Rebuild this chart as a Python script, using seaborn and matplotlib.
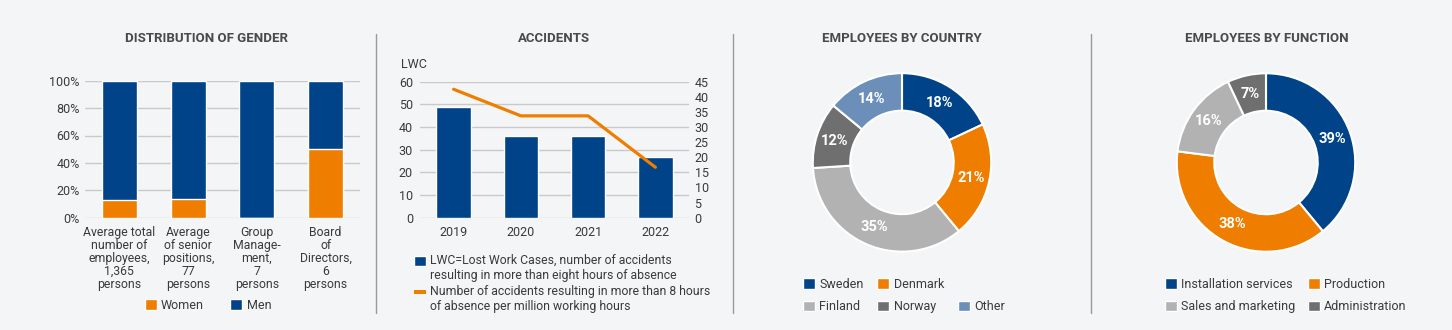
import numpy as np
import pandas as pd
import seaborn as sns
import matplotlib
matplotlib.use("Agg")
import matplotlib.pyplot as plt
from matplotlib.patches import Patch, Rectangle
from matplotlib.lines import Line2D
from matplotlib.legend_handler import HandlerPatch

# ---------------- data ----------------
gender_categories = [
    "Average total\nnumber of\nemployees,\n1,365\npersons",
    "Average\nof senior\npositions,\n77\npersons",
    "Group\nManage-\nment,\n7\npersons",
    "Board\nof\nDirectors,\n6\npersons",
]
women_pct = [13, 14, 0, 50]
men_pct = [87, 86, 100, 50]
gender_ticks = [0, 20, 40, 60, 80, 100]

years = ["2019", "2020", "2021", "2022"]
lwc_cases = [49, 36, 36, 27]
accident_rate = [42.5, 33.7, 33.7, 16.7]
lwc_ticks = [0, 10, 20, 30, 40, 50, 60]
rate_ticks = [0, 5, 10, 15, 20, 25, 30, 35, 40, 45]

countries = ["Sweden", "Denmark", "Finland", "Norway", "Other"]
country_pct = [18, 21, 35, 12, 14]

functions = ["Installation services", "Production", "Sales and marketing", "Administration"]
function_pct = [39, 38, 16, 7]

# ---------------- style ----------------
BG = "#f4f5f7"
NAVY = "#004388"
ORANGE = "#ef7d00"
LGRAY = "#b2b2b2"
DGRAY = "#6f6f6f"
LBLUE = "#6b8fb9"
TXT = "#3a3a3a"
TITLE = "#4a4a4a"
GRID = "#c9c9c9"

sns.set_theme(style="white")
plt.rcParams["font.family"] = ["Roboto", "DejaVu Sans"]
plt.rcParams["text.color"] = TXT
plt.rcParams["axes.labelcolor"] = TXT
plt.rcParams["xtick.color"] = TXT
plt.rcParams["ytick.color"] = TXT

W, H = 1452, 330
fig = plt.figure(figsize=(W / 100, H / 100), dpi=100, facecolor=BG)


def rect(l, t, r, b):
    return [l / W, 1 - b / H, (r - l) / W, (b - t) / H]


def fx(x):
    return x / W


def fy(y):
    return 1 - y / H


def clean(ax):
    ax.set_facecolor("none")
    for s in ax.spines.values():
        s.set_visible(False)
    ax.tick_params(length=0)
    ax.set_xlabel("")
    ax.set_ylabel("")


LEG = dict(frameon=False, fontsize=9, handlelength=0.95, handleheight=0.95,
           handletextpad=0.35, borderpad=0, borderaxespad=0)

# ---------------- titles & dividers ----------------
for x, t in [(206.5, "DISTRIBUTION OF GENDER"), (554, "ACCIDENTS"),
             (902, "EMPLOYEES BY COUNTRY"), (1267, "EMPLOYEES BY FUNCTION")]:
    fig.text(fx(x), fy(39), t, ha="center", va="center", fontsize=9.5,
             fontweight="bold", color=TITLE)
for x in [375.5, 732.5, 1090.5]:
    fig.add_artist(Line2D([fx(x), fx(x)], [fy(34), fy(313)], color="#9a9a9a", lw=1,
                          transform=fig.transFigure))

# ---------------- panel 1: gender ----------------
df_g = pd.DataFrame({"cat": gender_categories,
                     "women": women_pct,
                     "total": np.array(women_pct) + np.array(men_pct)})
ax1 = fig.add_axes(rect(85, 80.7, 360, 217.7))
sns.barplot(data=df_g, x="cat", y="total", color=NAVY, width=0.51, saturation=1, ax=ax1)
sns.barplot(data=df_g, x="cat", y="women", color=ORANGE, width=0.51, saturation=1, ax=ax1)
ax1.set_ylim(0, 100)
ax1.set_yticks(gender_ticks)
ax1.set_yticklabels([f"{v}%" for v in gender_ticks], fontsize=9)
ax1.set_xticks(range(len(gender_categories)))
ax1.set_xticklabels(gender_categories, fontsize=8.8, linespacing=1.0)
ax1.yaxis.grid(True, color=GRID, lw=1)
ax1.set_axisbelow(True)
clean(ax1)
ax1.tick_params(axis="y", pad=4)
ax1.tick_params(axis="x", pad=6)

fig.legend(handles=[Patch(facecolor=ORANGE, label="Women"), Patch(facecolor=NAVY, label="Men")],
           loc="center", bbox_to_anchor=(fx(208), fy(305.5)), ncol=2,
           columnspacing=2.1, **LEG)

# ---------------- panel 2: accidents ----------------
ax2 = fig.add_axes(rect(420, 81.7, 689, 217.7))
sns.barplot(x=years, y=lwc_cases, color=NAVY, width=0.51, saturation=1, ax=ax2)
ax2.set_ylim(0, 60)
ax2.set_yticks(lwc_ticks)
ax2.set_yticklabels([str(v) for v in lwc_ticks], fontsize=9)
ax2.tick_params(axis="x", labelsize=9, pad=6)
ax2.yaxis.grid(True, color=GRID, lw=1)
ax2.set_axisbelow(True)
clean(ax2)
ax2.tick_params(axis="y", pad=5)

ax2b = ax2.twinx()
sns.lineplot(x=np.arange(len(years)), y=accident_rate, color=ORANGE, lw=2.3, ax=ax2b)
ax2b.set_ylim(0, 45)
ax2b.set_yticks(rate_ticks)
ax2b.set_yticklabels([str(v) for v in rate_ticks], fontsize=9)
ax2b.grid(False)
clean(ax2b)
ax2b.tick_params(axis="y", pad=4)
ax2.set_xlim(-0.5, len(years) - 0.5)

fig.text(fx(401), fy(65), "LWC", ha="left", va="center", fontsize=9)


def top_square(legend, orig_handle, xdescent, ydescent, width, height, fontsize):
    shift = 0.62 * fontsize
    return Rectangle((-xdescent, -ydescent + shift), width, height)


def top_line(legend, orig_handle, xdescent, ydescent, width, height, fontsize):
    shift = 0.62 * fontsize
    th = 2.3
    return Rectangle((-xdescent, -ydescent + shift + height / 2 - th / 2), width, th)


lwc_handle = Patch(facecolor=NAVY,
                   label="LWC=Lost Work Cases, number of accidents\nresulting in more than eight hours of absence")
rate_handle = Patch(facecolor=ORANGE, edgecolor="none",
                    label="Number of accidents resulting in more than 8 hours\nof absence per million working hours")
leg2 = dict(LEG)
leg2["fontsize"] = 8.8
fig.legend(handles=[lwc_handle, rate_handle],
           handler_map={lwc_handle: HandlerPatch(patch_func=top_square),
                        rate_handle: HandlerPatch(patch_func=top_line)},
           loc="upper left", bbox_to_anchor=(fx(414), fy(254)),
           labelspacing=0.22, **leg2)

# ---------------- panel 3: country donut ----------------
ax3 = fig.add_axes(rect(811, 71.4, 993, 253.4))
country_colors = [NAVY, ORANGE, LGRAY, DGRAY, LBLUE]
ax3.pie(country_pct, colors=country_colors, startangle=90, counterclock=False,
        wedgeprops=dict(width=0.42, edgecolor="white", linewidth=1.5),
        autopct=lambda p: f"{p:.0f}%", pctdistance=0.79,
        textprops=dict(color="white", fontweight="bold", fontsize=10.5))
ax3.set_xlim(-1.02, 1.02)
ax3.set_ylim(-1.02, 1.02)

blank = Patch(facecolor="none", edgecolor="none", label="")
h = {c: Patch(facecolor=col, label=c) for c, col in zip(countries, country_colors)}
fig.legend(handles=[h["Sweden"], h["Finland"], h["Denmark"], h["Norway"], blank, h["Other"]],
           loc="upper left", bbox_to_anchor=(fx(803), fy(278)), ncol=3,
           columnspacing=1.1, labelspacing=0.75, **LEG)

# ---------------- panel 4: function donut ----------------
ax4 = fig.add_axes(rect(1175, 71.5, 1357, 253.5))
function_colors = [NAVY, ORANGE, LGRAY, DGRAY]
ax4.pie(function_pct, colors=function_colors, startangle=90, counterclock=False,
        wedgeprops=dict(width=0.42, edgecolor="white", linewidth=1.5),
        autopct=lambda p: f"{p:.0f}%", pctdistance=0.79,
        textprops=dict(color="white", fontweight="bold", fontsize=10.5))
ax4.set_xlim(-1.02, 1.02)
ax4.set_ylim(-1.02, 1.02)

hf = {c: Patch(facecolor=col, label=c) for c, col in zip(functions, function_colors)}
fig.legend(handles=[hf["Installation services"], hf["Sales and marketing"],
                    hf["Production"], hf["Administration"]],
           loc="upper left", bbox_to_anchor=(fx(1165), fy(278)), ncol=2,
           columnspacing=1.0, labelspacing=0.75, **LEG)

fig.savefig("out.png", dpi=100, facecolor=BG)
